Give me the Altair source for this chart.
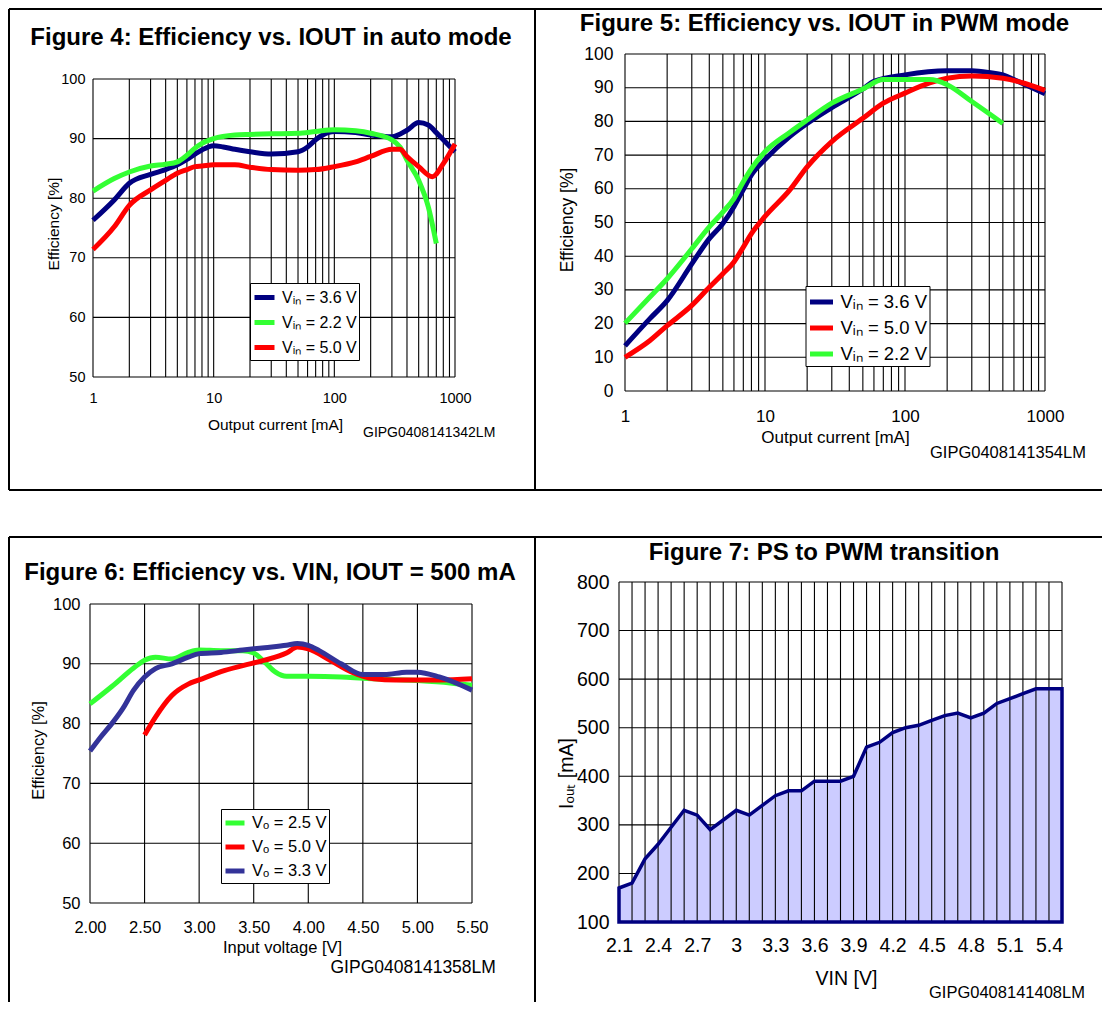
import altair as alt
import pandas as pd

FONT = "Liberation Sans"

# ---------------- Figure 4: Efficiency vs. IOUT in auto mode ----------------
f4_iout_36 = [1, 1.5, 2, 3, 4, 5, 6, 7, 8, 10, 12, 15, 20, 30, 50, 60, 70, 80, 100, 150, 200, 300, 400, 500, 600, 700, 800, 1000]
f4_eff_36 = [76.3, 79.7, 82.5, 84.0, 84.8, 85.6, 86.5, 87.4, 88.1, 88.8, 88.6, 88.2, 87.8, 87.4, 87.8, 88.6, 89.8, 90.6, 91.2, 91.0, 90.6, 90.3, 91.4, 92.7, 92.3, 91.0, 89.8, 87.8]
f4_iout_22 = [1, 1.5, 2, 3, 4, 5, 6, 7, 8, 10, 15, 20, 30, 50, 70, 100, 150, 200, 300, 350, 400, 500, 600, 700]
f4_eff_22 = [81.2, 83.3, 84.4, 85.4, 85.7, 86.1, 87.2, 88.4, 89.2, 90.0, 90.6, 90.7, 90.8, 90.9, 91.2, 91.5, 91.3, 90.9, 89.8, 88.6, 86.4, 83.0, 78.6, 72.4]
f4_iout_50 = [1, 1.5, 2, 3, 4, 5, 6, 7, 8, 10, 15, 20, 30, 50, 70, 100, 150, 200, 300, 350, 400, 500, 650, 800, 1000]
f4_eff_50 = [71.4, 75.2, 78.8, 81.4, 83.0, 84.2, 84.8, 85.3, 85.4, 85.6, 85.6, 85.2, 84.8, 84.7, 84.8, 85.3, 86.1, 87.0, 88.2, 88.2, 87.0, 85.3, 83.6, 85.8, 89.1]
f4_labels = ["V\u1d62\u2099 = 3.6 V", "V\u1d62\u2099 = 2.2 V", "V\u1d62\u2099 = 5.0 V"]
f4_colors = ["#000080", "#33ff33", "#ff0000"]

# ---------------- Figure 5: Efficiency vs. IOUT in PWM mode ----------------
f5_iout_36 = [1, 1.5, 2, 3, 4, 5, 6, 7, 8, 10, 15, 20, 30, 50, 60, 100, 200, 300, 400, 500, 600, 1000]
f5_eff_36 = [13.4, 21.4, 26.8, 37.7, 45.2, 49.7, 54.7, 59.8, 64.1, 68.7, 75.5, 79.4, 84.1, 89.6, 91.9, 93.8, 95.0, 95.0, 94.5, 93.8, 92.4, 88.2]
f5_iout_50 = [1, 1.5, 2, 3, 4, 5, 6, 7, 8, 10, 15, 20, 30, 50, 70, 100, 150, 200, 300, 500, 700, 1000]
f5_eff_50 = [10.0, 14.9, 19.4, 25.4, 30.8, 34.8, 38.3, 42.7, 46.7, 51.8, 59.6, 66.5, 74.0, 80.9, 85.4, 88.4, 91.4, 92.8, 93.5, 92.8, 91.4, 89.2]
f5_iout_22 = [1, 1.5, 2, 3, 4, 5, 6, 7, 8, 10, 15, 20, 30, 50, 70, 100, 150, 200, 300, 500]
f5_eff_22 = [20.1, 27.8, 33.3, 42.2, 48.7, 53.1, 57.1, 62.1, 66.0, 71.0, 76.7, 80.4, 85.4, 89.6, 92.4, 92.4, 92.4, 90.9, 85.9, 79.4]
f5_labels = ["V\u1d62\u2099 = 3.6 V", "V\u1d62\u2099 = 5.0 V", "V\u1d62\u2099 = 2.2 V"]
f5_colors = ["#000080", "#ff0000", "#33ff33"]

# ---------------- Figure 6: Efficiency vs. VIN, IOUT = 500 mA ----------------
f6_vin_25 = [2.0, 2.2, 2.4, 2.5, 2.6, 2.75, 2.9, 3.0, 3.2, 3.4, 3.5, 3.6, 3.7, 3.8, 4.0, 4.3, 4.5, 5.0, 5.3, 5.5]
f6_eff_25 = [83.3, 86.2, 89.3, 90.6, 91.1, 90.8, 91.9, 92.3, 92.2, 92.2, 91.8, 90.3, 88.6, 87.9, 87.9, 87.8, 87.6, 87.2, 86.8, 86.4]
f6_vin_50 = [2.5, 2.6, 2.75, 2.9, 3.0, 3.2, 3.4, 3.6, 3.8, 3.9, 4.0, 4.2, 4.4, 4.6, 4.8, 5.0, 5.2, 5.5]
f6_eff_50 = [78.1, 81.1, 84.7, 86.6, 87.3, 88.7, 89.7, 90.6, 91.8, 92.8, 92.5, 90.6, 88.6, 87.5, 87.3, 87.3, 87.3, 87.5]
f6_vin_33 = [2.0, 2.1, 2.2, 2.3, 2.4, 2.5, 2.6, 2.75, 2.9, 3.0, 3.2, 3.4, 3.6, 3.8, 3.9, 4.0, 4.1, 4.3, 4.5, 4.7, 4.9, 5.0, 5.2, 5.5]
f6_eff_33 = [75.4, 77.8, 80.0, 82.5, 85.6, 87.8, 89.2, 90.0, 91.1, 91.7, 91.9, 92.3, 92.7, 93.1, 93.4, 93.1, 92.2, 90.0, 88.2, 88.2, 88.6, 88.6, 87.8, 85.6]
f6_labels = ["V\u2092 = 2.5 V", "V\u2092 = 5.0 V", "V\u2092 = 3.3 V"]
f6_colors = ["#33ff33", "#ff0000", "#333399"]

# ---------------- Figure 7: PS to PWM transition ----------------
f7_vin = [2.1, 2.2, 2.3, 2.4, 2.5, 2.6, 2.7, 2.8, 2.9, 3.0, 3.1, 3.2, 3.3, 3.4, 3.5, 3.6, 3.7, 3.8,
          3.9, 4.0, 4.1, 4.2, 4.3, 4.4, 4.5, 4.6, 4.7, 4.8, 4.9, 5.0, 5.1, 5.2, 5.3, 5.4, 5.5]
f7_iout = [170, 180, 230, 260, 295, 330, 320, 290, 310, 330, 320, 340, 360, 370, 370, 390, 390, 390,
           400, 460, 470, 490, 500, 505, 515, 525, 530, 520, 530, 550, 560, 570, 580, 580, 580]

# ---------------- ticks / grid ----------------
log_grid = [1, 2, 3, 4, 5, 6, 7, 8, 9, 10, 20, 30, 40, 50, 60, 70, 80, 90,
            100, 200, 300, 400, 500, 600, 700, 800, 900, 1000]
log_labels = [1, 10, 100, 1000]
eff50_ticks = [50, 60, 70, 80, 90, 100]
eff0_ticks = [0, 10, 20, 30, 40, 50, 60, 70, 80, 90, 100]
vin6_ticks = [2.0, 2.5, 3.0, 3.5, 4.0, 4.5, 5.0, 5.5]
vin7_grid = f7_vin
vin7_labels = [2.1, 2.4, 2.7, 3.0, 3.3, 3.6, 3.9, 4.2, 4.5, 4.8, 5.1, 5.4]
iout7_ticks = [100, 200, 300, 400, 500, 600, 700, 800]


def long_df(groups):
    rows = []
    for lab, xs, ys in groups:
        for x, y in zip(xs, ys):
            rows.append({"x": x, "y": y, "s": lab})
    return pd.DataFrame(rows)


def vgrid(vals, lo, hi, X, Y, w=1.1):
    d = pd.DataFrame({"x": vals, "y": [lo] * len(vals), "y2": [hi] * len(vals)})
    return alt.Chart(d).mark_rule(color="black", strokeWidth=w).encode(x=X, y=Y, y2="y2:Q")


def hgrid(vals, lo, hi, X, Y, w=1.1):
    d = pd.DataFrame({"y": vals, "x": [lo] * len(vals), "x2": [hi] * len(vals)})
    return alt.Chart(d).mark_rule(color="black", strokeWidth=w).encode(x=X, y=Y, x2="x2:Q")


def xaxis(values, fmt, lsize, lpad, tsize, tx, ty):
    return alt.Axis(values=values, format=fmt, ticks=False, tickSize=0, domain=False, grid=False,
                    labelFont=FONT, labelFontSize=lsize, labelColor="black", labelPadding=lpad,
                    labelFlush=False, labelOverlap=False,
                    titleFont=FONT, titleFontSize=tsize, titleFontWeight="normal", titleColor="black",
                    titleX=tx, titleY=ty, titleBaseline="middle", titleAlign="center")


def yaxis(values, lsize, lpad, tsize, tx, ty, offset=0):
    return alt.Axis(values=values, ticks=False, tickSize=0, domain=False, grid=False, offset=offset,
                    labelFont=FONT, labelFontSize=lsize, labelColor="black", labelPadding=lpad,
                    labelFlush=False, labelOverlap=False,
                    titleFont=FONT, titleFontSize=tsize, titleFontWeight="normal", titleColor="black",
                    titleX=tx, titleY=ty, titleBaseline="middle", titleAlign="center", titleAngle=270)


def legend(x, y, fsize, ssize, rowpad, pad):
    return alt.Legend(orient="none", legendX=x, legendY=y, direction="vertical",
                      symbolType="stroke", symbolStrokeWidth=5, symbolSize=ssize,
                      labelFont=FONT, labelFontSize=fsize, labelColor="black", labelOffset=5,
                      strokeColor="black", fillColor="white", padding=pad, rowPadding=rowpad,
                      labelLimit=400)


def text_layer(text, x, y, size, bold=False, align="center"):
    return alt.Chart(pd.DataFrame({"t": [text]})).mark_text(
        font=FONT, fontSize=size, fontWeight="bold" if bold else "normal",
        align=align, baseline="middle", color="black").encode(
        x=alt.value(x), y=alt.value(y), text="t:N")


def hline(x1, x2, y):
    return alt.Chart(pd.DataFrame({"k": [0]})).mark_rule(color="black", strokeWidth=2).encode(
        x=alt.value(x1), x2=alt.value(x2), y=alt.value(y))


def vline(x, y1, y2):
    return alt.Chart(pd.DataFrame({"k": [0]})).mark_rule(color="black", strokeWidth=2).encode(
        x=alt.value(x), y=alt.value(y1), y2=alt.value(y2))


# ---------------- Panel 1 (Figure 4) ----------------
X1 = alt.X("x:Q", title="Output current [mA]",
           scale=alt.Scale(type="log", domain=[1, 1000], range=[3, 365], nice=False),
           axis=xaxis(log_labels, "d", 14.5, 14, 15.5, 185, 47))
Y1 = alt.Y("y:Q", title="Efficiency [%]",
           scale=alt.Scale(domain=[50, 100], range=[323, 25], nice=False, zero=False),
           axis=yaxis(eff50_ticks, 14.5, 8, 15.5, -40, 169.5, offset=-3))
df1 = long_df([(f4_labels[0], f4_iout_36, f4_eff_36),
               (f4_labels[1], f4_iout_22, f4_eff_22),
               (f4_labels[2], f4_iout_50, f4_eff_50)])
p1 = alt.layer(
    vgrid(log_grid, 50, 100, X1, Y1),
    hgrid(eff50_ticks, 1, 1000, X1, Y1),
    alt.Chart(df1).mark_line(strokeWidth=5, interpolate="monotone").encode(
        x=X1, y=Y1,
        color=alt.Color("s:N", scale=alt.Scale(domain=f4_labels, range=f4_colors),
                        legend=legend(160, 229, 16, 400, 2, 2), title=None)),
    text_layer("Figure 4: Efficiency vs. IOUT in auto mode", 181, -16, 24, bold=True),
    text_layer("GIPG0408141342LM", 273, 379, 14, align="left"),
    hline(-81, 1012, -45), hline(-81, 1012, 436),
    vline(-81, -45, 436), vline(445, -45, 436),
).properties(width=365, height=323)

# ---------------- Panel 2 (Figure 5) ----------------
X2 = alt.X("x:Q", title="Output current [mA]",
           scale=alt.Scale(type="log", domain=[1, 1000], range=[6, 426], nice=False),
           axis=xaxis(log_labels, "d", 17, 17.5, 17, 216, 46.5))
Y2 = alt.Y("y:Q", title="Efficiency [%]",
           scale=alt.Scale(domain=[0, 100], nice=False),
           axis=yaxis(eff0_ticks, 17.5, 12, 17.5, -58, 165.5, offset=-6))
df2 = long_df([(f5_labels[0], f5_iout_36, f5_eff_36),
               (f5_labels[1], f5_iout_50, f5_eff_50),
               (f5_labels[2], f5_iout_22, f5_eff_22)])
p2 = alt.layer(
    vgrid(log_grid, 0, 100, X2, Y2),
    hgrid(eff0_ticks, 1, 1000, X2, Y2),
    alt.Chart(df2).mark_line(strokeWidth=5, interpolate="monotone").encode(
        x=X2, y=Y2,
        color=alt.Color("s:N", scale=alt.Scale(domain=f5_labels, range=f5_colors),
                        legend=legend(186.5, 232, 18.5, 529, 2, 2), title=None)),
    text_layer("Figure 5: Efficiency vs. IOUT in PWM mode", 205.5, -30, 24, bold=True),
    text_layer("GIPG0408141354LM", 311, 399, 16.5, align="left"),
).properties(width=426, height=337)

# ---------------- Panel 3 (Figure 6) ----------------
X3 = alt.X("x:Q", title="Input voltage [V]",
           scale=alt.Scale(domain=[2.0, 5.5], nice=False, zero=False),
           axis=xaxis(vin6_ticks, ".2f", 16.5, 16, 16.5, 192, 44))
Y3 = alt.Y("y:Q", title="Efficiency [%]",
           scale=alt.Scale(domain=[50, 100], range=[321, 22], nice=False, zero=False),
           axis=yaxis(eff50_ticks, 16.5, 10, 16.5, -52, 168))
df3 = long_df([(f6_labels[0], f6_vin_25, f6_eff_25),
               (f6_labels[1], f6_vin_50, f6_eff_50),
               (f6_labels[2], f6_vin_33, f6_eff_33)])
p3 = alt.layer(
    vgrid(vin6_ticks, 50, 100, X3, Y3),
    hgrid(eff50_ticks, 2.0, 5.5, X3, Y3),
    alt.Chart(df3).mark_line(strokeWidth=5, interpolate="monotone").encode(
        x=X3, y=Y3,
        color=alt.Color("s:N", scale=alt.Scale(domain=f6_labels, range=f6_colors),
                        legend=legend(131, 227, 16.5, 361, 2, 2), title=None)),
    text_layer("Figure 6: Efficiency vs. VIN, IOUT = 500 mA", 180, -9, 24, bold=True),
    text_layer("GIPG0408141358LM", 240.5, 386, 17.5, align="left"),
    hline(-81, 1012, -45),
    vline(-81, -45, 420), vline(445, -45, 420),
).properties(width=382, height=321)

# ---------------- Panel 4 (Figure 7) ----------------
X4 = alt.X("x:Q", title="VIN [V]",
           scale=alt.Scale(domain=[2.1, 5.5], nice=False, zero=False),
           axis=xaxis(vin7_labels, ".1~f", 19.5, 14.5, 19.5, 227, 56))
Y4 = alt.Y("y:Q", title="I\u2092\u1d64\u209c [mA]",
           scale=alt.Scale(domain=[100, 800], nice=False, zero=False),
           axis=yaxis(iout7_ticks, 19.5, 10, 19.5, -53, 191))
df4 = pd.DataFrame({"x": f7_vin, "y": f7_iout})
p4 = alt.layer(
    hgrid(iout7_ticks, 2.1, 5.5, X4, Y4),
    alt.Chart(df4).mark_area(color="#ccccff", opacity=1, interpolate="linear").encode(
        x=X4, y=Y4, y2=alt.datum(100)),
    vgrid(vin7_grid, 100, 800, X4, Y4),
    alt.Chart(df4).mark_area(fillOpacity=0, stroke="#000080", strokeWidth=3.5,
                             interpolate="linear").encode(
        x=X4, y=Y4, y2=alt.datum(100)),
    text_layer("Figure 7: PS to PWM transition", 205, -29, 24, bold=True),
    text_layer("GIPG0408141408LM", 310, 411, 16.5, align="left"),
).properties(width=443, height=340)

chart = alt.concat(
    p1, p2, p3, p4, columns=2, spacing={"row": 191, "column": 147}, bounds="flush"
).resolve_scale(color="independent").properties(padding=0).configure_view(strokeWidth=0)

chart.save("out.html", embed_options={"renderer": "svg", "actions": False})
